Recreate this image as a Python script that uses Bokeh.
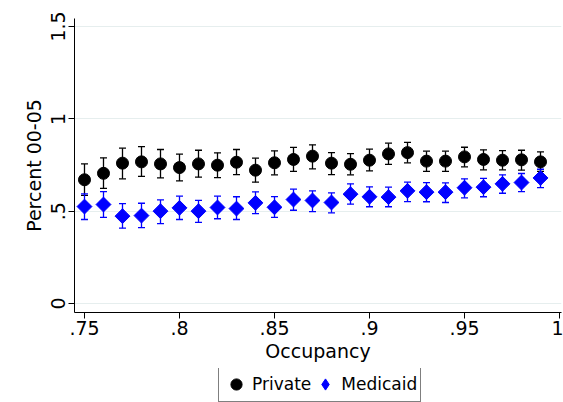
from bokeh.plotting import figure
from bokeh.layouts import column
from bokeh.models import (ColumnDataSource, Whisker, TeeHead, FixedTicker,
                          Legend, LegendItem, Range1d)
from bokeh.embed import file_html
from bokeh.resources import INLINE

occupancy = [0.75, 0.76, 0.77, 0.78, 0.79, 0.80, 0.81, 0.82, 0.83, 0.84,
             0.85, 0.86, 0.87, 0.88, 0.89, 0.90, 0.91, 0.92, 0.93, 0.94,
             0.95, 0.96, 0.97, 0.98, 0.99]

private_mean = [0.670, 0.705, 0.760, 0.767, 0.756, 0.736, 0.756, 0.749, 0.765, 0.722,
                0.762, 0.780, 0.798, 0.760, 0.754, 0.776, 0.810, 0.817, 0.771, 0.771,
                0.794, 0.780, 0.776, 0.778, 0.767]
private_hi = [0.756, 0.789, 0.841, 0.850, 0.834, 0.809, 0.830, 0.816, 0.834, 0.787,
              0.827, 0.845, 0.859, 0.817, 0.812, 0.836, 0.868, 0.873, 0.825, 0.825,
              0.846, 0.832, 0.828, 0.830, 0.821]
private_lo = [0.585, 0.623, 0.675, 0.688, 0.680, 0.664, 0.684, 0.682, 0.698, 0.657,
              0.697, 0.716, 0.729, 0.698, 0.697, 0.718, 0.753, 0.762, 0.715, 0.715,
              0.740, 0.724, 0.724, 0.722, 0.716]

medicaid_mean = [0.525, 0.536, 0.473, 0.476, 0.500, 0.518, 0.500, 0.520, 0.514, 0.545,
                 0.521, 0.563, 0.558, 0.547, 0.592, 0.578, 0.576, 0.610, 0.603, 0.603,
                 0.627, 0.630, 0.648, 0.655, 0.680]
medicaid_hi = [0.594, 0.606, 0.541, 0.543, 0.561, 0.581, 0.558, 0.581, 0.578, 0.605,
               0.579, 0.619, 0.610, 0.599, 0.648, 0.632, 0.630, 0.657, 0.655, 0.653,
               0.675, 0.678, 0.697, 0.704, 0.727]
medicaid_lo = [0.455, 0.466, 0.408, 0.411, 0.433, 0.455, 0.439, 0.459, 0.455, 0.487,
               0.466, 0.505, 0.498, 0.491, 0.538, 0.524, 0.524, 0.552, 0.551, 0.547,
               0.572, 0.578, 0.597, 0.606, 0.628]

x_ticks = [0.75, 0.80, 0.85, 0.90, 0.95, 1.0]
x_tick_labels = [".75", ".8", ".85", ".9", ".95", "1"]
y_ticks = [0, 0.5, 1, 1.5]
y_tick_labels = ["0", ".5", "1", "1.5"]

FONT = "DejaVu Sans"
GRID = "#E6EEEE"
BLUE = "#0000FF"

src_p = ColumnDataSource(dict(x=occupancy, y=private_mean, lo=private_lo, hi=private_hi))
src_m = ColumnDataSource(dict(x=occupancy, y=medicaid_mean, lo=medicaid_lo, hi=medicaid_hi))

p = figure(frame_width=487, frame_height=294, output_backend="svg", toolbar_location=None,
           x_range=Range1d(0.74474, 1.00105), y_range=Range1d(-0.0487, 1.5433),
           min_border_left=74, min_border_right=2, min_border_top=18, min_border_bottom=56,
           background_fill_color="white", border_fill_color="white")
p.outline_line_color = None

# error bars
wp = Whisker(source=src_p, base="x", upper="hi", lower="lo",
             line_color="black", line_width=1.3,
             upper_head=TeeHead(size=7, line_color="black", line_width=1.3),
             lower_head=TeeHead(size=7, line_color="black", line_width=1.3))
wm = Whisker(source=src_m, base="x", upper="hi", lower="lo",
             line_color=BLUE, line_width=1.3,
             upper_head=TeeHead(size=7, line_color=BLUE, line_width=1.3),
             lower_head=TeeHead(size=7, line_color=BLUE, line_width=1.3))
p.add_layout(wp)
p.add_layout(wm)

p.scatter("x", "y", source=src_p, marker="circle", size=12,
          fill_color="black", line_color="black")
p.scatter("x", "y", source=src_m, marker="square", size=10.5, angle=0.785398,
          fill_color=BLUE, line_color=BLUE)

# axes
p.xaxis.ticker = FixedTicker(ticks=x_ticks)
p.xaxis.major_label_overrides = {t: l for t, l in zip(x_ticks, x_tick_labels)}
p.yaxis.ticker = FixedTicker(ticks=y_ticks)
p.yaxis.major_label_overrides = {t: l for t, l in zip(y_ticks, y_tick_labels)}
p.yaxis.major_label_orientation = "vertical"

for ax in (p.xaxis[0], p.yaxis[0]):
    ax.axis_line_color = "black"
    ax.axis_line_width = 1
    ax.major_tick_line_color = "black"
    ax.major_tick_in = 0
    ax.major_tick_out = 6
    ax.minor_tick_line_color = None
    ax.major_label_text_font = FONT
    ax.major_label_text_font_size = "19px"
    ax.major_label_text_color = "black"
    ax.axis_label_text_font = FONT
    ax.axis_label_text_font_size = "19px"
    ax.axis_label_text_font_style = "normal"
    ax.axis_label_text_color = "black"

p.xaxis.axis_label = "Occupancy"
p.yaxis.axis_label = "Percent 00-05"
p.xaxis.major_label_standoff = 2
p.xaxis.axis_label_standoff = 2
p.yaxis.major_label_standoff = 3
p.yaxis.axis_label_standoff = 4

p.xgrid.grid_line_color = None
p.ygrid.ticker = FixedTicker(ticks=y_ticks)
p.ygrid.grid_line_color = GRID
p.ygrid.grid_line_width = 1.2

# legend strip: a second, axis-less figure below the plot (same data, kept out of view)
lf = figure(width=563, height=34, output_backend="svg", toolbar_location=None,
            x_range=Range1d(0.74474, 1.00105), y_range=Range1d(5, 6),
            x_axis_location=None, y_axis_location=None,
            min_border_left=0, min_border_right=0, min_border_top=0, min_border_bottom=0,
            background_fill_color="white", border_fill_color="white")
lf.outline_line_color = None
lf.xgrid.grid_line_color = None
lf.ygrid.grid_line_color = None
lr_p = lf.scatter("x", "y", source=src_p, marker="circle", size=12,
                  fill_color="black", line_color="black")
lr_m = lf.scatter("x", "y", source=src_m, marker="diamond", size=12,
                  fill_color=BLUE, line_color=BLUE)

legend = Legend(items=[LegendItem(label="Private", renderers=[lr_p]),
                       LegendItem(label="Medicaid", renderers=[lr_m])],
                orientation="horizontal", location=(144, 0),
                border_line_color="black", border_line_width=1,
                background_fill_color="white", background_fill_alpha=1,
                label_text_font=FONT, label_text_font_size="17px",
                label_text_color="black",
                glyph_width=28, glyph_height=28, label_standoff=2,
                spacing=0, padding=3, margin=0)
lf.add_layout(legend, "center")

layout = column(p, lf, spacing=0)
open("out.html", "w").write(file_html(layout, INLINE))
